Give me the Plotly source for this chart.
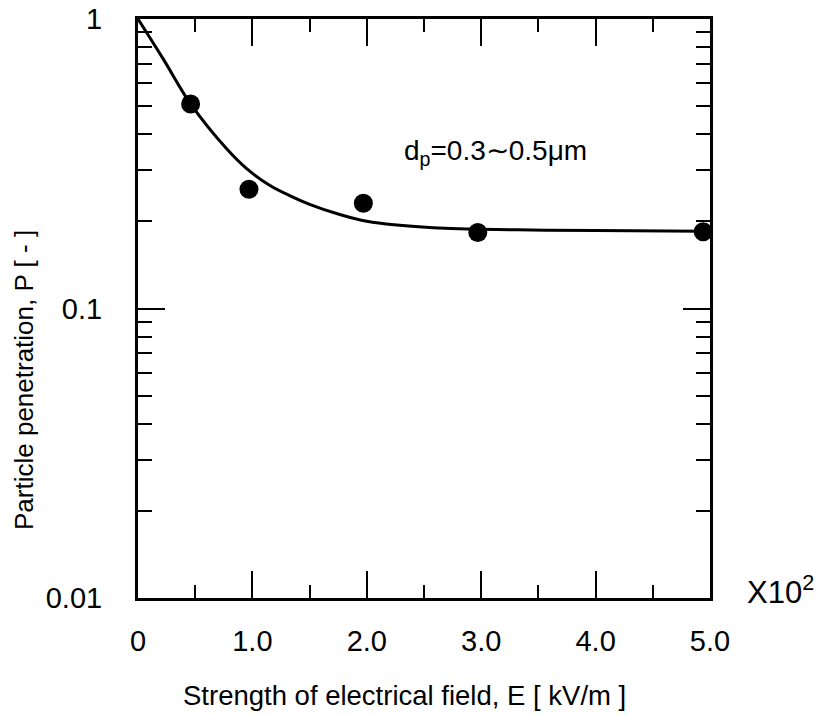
import plotly.graph_objects as go

# Measured data points (E in units of 10^2 kV/m)
e_points = [0.46, 0.97, 1.97, 2.97, 4.94]
p_points = [0.509, 0.258, 0.231, 0.183, 0.184]

# Curve
e_curve = [0.0, 0.22, 0.46, 0.775, 0.95, 1.154, 1.33, 1.5, 1.75, 2.0, 2.58, 3.31, 4.0, 4.94]
p_curve = [1.0, 0.728, 0.509, 0.356, 0.304, 0.266, 0.245, 0.229, 0.212, 0.200, 0.190, 0.187, 0.186, 0.185]

x_tickvals = [0, 1, 2, 3, 4, 5]
x_ticktext = ["0", "1.0", "2.0", "3.0", "4.0", "5.0"]
y_tickvals = [1, 0.1, 0.01]
y_ticktext = ["1", "0.1", "0.01"]
y_minorvals = [m * d for d in (0.01, 0.1) for m in range(2, 10)]

FONT = "Liberation Sans, Arial, sans-serif"

fig = go.Figure()
fig.add_trace(go.Scatter(x=e_curve, y=p_curve, mode="lines",
                         line=dict(color="black", width=3, shape="spline", smoothing=1.0),
                         hoverinfo="skip", showlegend=False))
fig.add_trace(go.Scatter(x=e_points, y=p_points, mode="markers",
                         marker=dict(color="black", size=19, symbol="circle"), showlegend=False))

fig.update_layout(
    width=819, height=715, autosize=False,
    margin=dict(l=138, r=109, t=19, b=117),
    paper_bgcolor="white", plot_bgcolor="white",
    font=dict(family=FONT, color="black"),
)
fig.update_xaxes(
    range=[0, 5], tickvals=x_tickvals, ticktext=x_ticktext, automargin=False,
    ticks="inside", ticklen=27, tickwidth=2, tickcolor="black",
    minor=dict(dtick=0.5, ticks="inside", ticklen=13, tickwidth=2, tickcolor="black", showgrid=False),
    showline=True, linewidth=3, linecolor="black", mirror="allticks",
    showgrid=False, zeroline=False,
    tickfont=dict(size=29, family=FONT, color="black"), ticklabelstandoff=15,
)
fig.update_yaxes(
    type="log", range=[-2, 0], tickvals=y_tickvals, ticktext=y_ticktext, automargin=False,
    ticks="inside", ticklen=27, tickwidth=2, tickcolor="black",
    minor=dict(tickvals=y_minorvals, ticks="inside", ticklen=14, tickwidth=2, tickcolor="black", showgrid=False),
    showline=True, linewidth=3, linecolor="black", mirror="allticks",
    showgrid=False, zeroline=False,
    tickfont=dict(size=29, family=FONT, color="black"), ticklabelstandoff=27,
)

fig.add_annotation(text="Strength of electrical field, E [ kV/m ]", xref="paper", yref="paper",
                   x=(404 - 138) / 572, y=-(695 - 598) / 579, xanchor="center", yanchor="middle",
                   showarrow=False, font=dict(size=27.5, family=FONT, color="black"))
fig.add_annotation(text="Particle penetration, P [ - ]", xref="paper", yref="paper",
                   x=-(138 - 24) / 572, y=(598 - 380) / 579, xanchor="center", yanchor="middle",
                   textangle=-90, showarrow=False, font=dict(size=26, family=FONT, color="black"))
fig.add_annotation(text="X10<sup>2</sup>", xref="paper", yref="paper",
                   x=(745 - 138) / 572, y=(598 - 590) / 579, xanchor="left", yanchor="middle",
                   showarrow=False, font=dict(size=31, family=FONT, color="black"))
fig.add_annotation(text="d<sub>p</sub>=0.3∼0.5μm", xref="paper", yref="paper",
                   x=(402 - 138) / 572, y=(598 - 152) / 579, xanchor="left", yanchor="middle",
                   showarrow=False, font=dict(size=28, family=FONT, color="black"))

fig.write_html("out.html")
